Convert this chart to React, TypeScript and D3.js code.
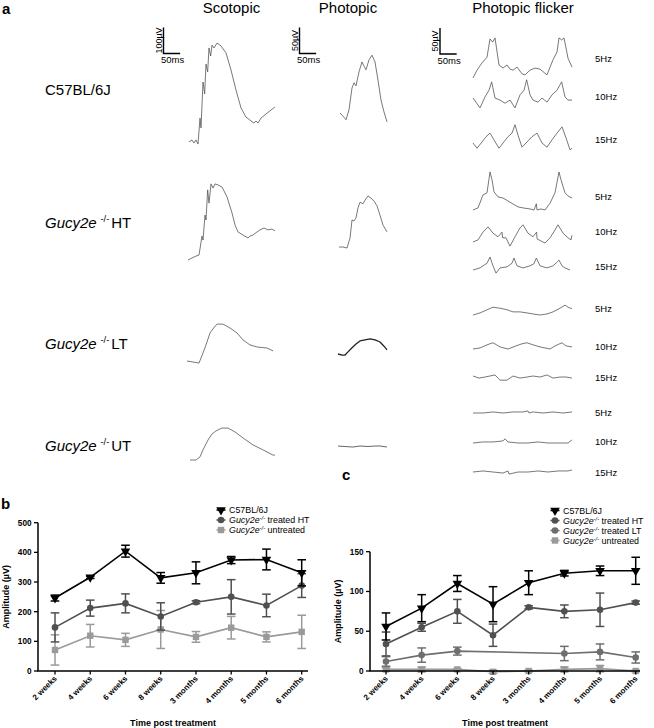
import React from "react";
import * as d3 from "d3";

const FONT = "'Liberation Sans', Arial, Helvetica, sans-serif";

// ---------- Panel b / c data ----------
const categories = ["2 weeks", "4 weeks", "6 weeks", "8 weeks", "3 months", "4 months", "5 months", "6 months"];

const bC57Mean = [246, 316, 404, 314, 331, 374, 376, 331];
const bC57Err = [10, 4, 20, 18, 37, 12, 35, 44];
const bHTMean = [147, 212, 228, 184, 232, 250, 221, 288];
const bHTErr = [49, 27, 32, 46, 5, 58, 38, 40];
const bUTMean = [71, 119, 105, 140, 115, 146, 115, 132];
const bUTErr = [51, 38, 22, 64, 18, 38, 17, 56];
const bTicks = [0, 100, 200, 300, 400, 500];

const cC57Mean = [56, 79, 110, 84, 111, 123, 126, 126];
const cC57Err = [17, 17, 10, 22, 15, 3.5, 6, 17];
const cHTMean = [34, 55, 75, 45, 80, 75, 77, 86];
const cHTErr = [15, 5, 15, 14, 2, 8, 21, 2];
const cLTMean = [12, 20, 25, null, null, 22, 24, 17];
const cLTErr = [6, 9, 5, null, null, 9, 10, 7];
const cUTMean = [2, 2, 2, -1, 0, 2, 3, 0];
const cUTErr = [2, 3, 1, 2, 1, 3, 4, 1];
const cTicks = [0, 50, 100, 150];

// ---------- Panel a traces (ms, µV) ----------
const scoC57T = [0, 9, 15, 21, 27, 33, 36, 42, 47, 51, 56, 60, 65, 69, 75, 84, 96, 111, 126, 141, 156, 171, 186, 195, 201, 207, 216, 231, 246, 258];
const scoC57V = [0, 8, -4, 8, -8, 92, 54, 231, 185, 300, 270, 362, 331, 373, 362, 381, 370, 343, 277, 200, 131, 96, 81, 73, 81, 73, 92, 108, 123, 135];
const scoHTT = [0, 12, 24, 33, 42, 45, 51, 54, 59, 63, 69, 75, 81, 90, 102, 117, 132, 141, 150, 165, 180, 186, 195, 207, 216, 228, 240, 252, 261];
const scoHTV = [0, 8, 15, 19, 92, 77, 173, 154, 270, 219, 293, 277, 293, 289, 281, 243, 181, 135, 108, 96, 85, 92, 96, 108, 116, 123, 116, 119, 112];
const scoLTT = [0, 18, 36, 48, 60, 69, 80, 90, 108, 129, 150, 168, 189, 210, 240, 258];
const scoLTV = [0, -4, -8, 31, 73, 108, 127, 142, 142, 127, 108, 81, 62, 54, 50, 39];
const scoUTT = [0, 18, 30, 39, 54, 66, 78, 96, 114, 135, 159, 189, 219, 249, 255];
const scoUTV = [0, 0, 12, 39, 77, 100, 112, 123, 123, 108, 85, 58, 39, 19, 19];

const phoC57T = [0, 9, 18, 27, 36, 42, 48, 57, 66, 72, 78, 87, 96, 105, 114, 123, 132, 141];
const phoC57V = [0, -6, -13, 6, 48, 58, 52, 79, 98, 90, 83, 102, 111, 98, 63, 25, 2, -17];
const phoHTT = [0, 12, 24, 33, 39, 45, 51, 57, 63, 72, 78, 87, 96, 105, 114, 123, 132, 144];
const phoHTV = [0, 0, -2, 17, 52, 50, 56, 75, 86, 83, 90, 98, 94, 88, 79, 61, 42, 29];
const phoLTT = [0, 12, 21, 30, 42, 54, 66, 81, 96, 111, 126, 138, 147];
const phoLTV = [0, -2, -2, 4, 12, 19, 25, 27, 29, 27, 23, 15, 8];
const phoUTT = [0, 21, 45, 66, 90, 111, 126, 147];
const phoUTV = [0, -1, -2, 0, -1, 0, 0, -2];

const fC57_5T = [0, 12, 27, 42, 51, 59, 66, 78, 90, 102, 111, 120, 132, 147, 156, 171, 186, 201, 222, 240, 252, 258, 266, 273, 285, 297];
const fC57_5V = [0, 15, 29, 40, 75, 69, 77, 25, 19, 25, 17, 15, 21, 8, 6, 15, 19, 17, 6, 35, 50, 77, 73, 77, 38, 21];
const fC57_10T = [0, 21, 36, 48, 56, 66, 81, 96, 111, 126, 141, 153, 161, 171, 180, 195, 207, 222, 237, 252, 266, 276, 285, 297];
const fC57_10V = [0, -19, 2, 15, 31, 0, -4, -10, -4, -19, 6, 15, 35, 6, -4, -8, 0, -8, 6, 15, 31, 2, -4, -4];
const fC57_15T = [0, 12, 27, 39, 51, 63, 78, 90, 105, 117, 126, 135, 147, 159, 177, 192, 207, 222, 237, 252, 267, 279, 291, 297];
const fC57_15V = [0, -10, 2, 12, 19, 6, -10, 0, 12, 19, 35, 15, -8, 0, 12, 19, 0, -8, 6, 19, 31, 10, -13, -10];

const fHT_5T = [0, 15, 30, 42, 51, 57, 63, 75, 90, 111, 135, 150, 171, 183, 190, 192, 204, 216, 231, 246, 258, 264, 276, 285, 297];
const fHT_5V = [0, 4, 29, 33, 73, 58, 35, 25, 23, 15, 6, 4, 2, 0, 12, 0, 2, 0, 13, 33, 73, 58, 33, 27, 23];
const fHT_10T = [0, 15, 30, 45, 60, 75, 87, 89, 99, 111, 126, 141, 150, 165, 180, 191, 192, 204, 216, 231, 246, 255, 270, 285, 294, 297];
const fHT_10V = [0, 4, 19, 29, 17, 10, 19, 8, 8, -8, 10, 27, 33, 17, 10, 19, 6, 2, -2, 8, 23, 33, 17, 8, 4, 13];
const fHT_15T = [0, 21, 42, 51, 60, 69, 81, 102, 117, 123, 132, 150, 171, 183, 190, 201, 222, 240, 252, 258, 267, 276, 291];
const fHT_15V = [0, 4, 13, 25, 8, -6, 4, 6, 13, 23, 8, 4, 8, 12, 23, 8, 4, 8, 15, 19, 8, 4, 0];

const fLT_5T = [0, 21, 42, 60, 81, 102, 120, 141, 162, 180, 201, 222, 240, 261, 276, 285, 297];
const fLT_5V = [0, 4, 10, 15, 13, 10, 6, 6, 4, 2, 0, 2, 6, 13, 19, 15, 12];
const fLT_10T = [0, 21, 42, 60, 81, 105, 129, 147, 162, 180, 201, 231, 246, 267, 279, 297];
const fLT_10V = [0, 2, 8, 12, 4, 0, 6, 10, 12, 8, 4, 0, 6, 12, 6, 4];
const fLT_15T = [0, 18, 36, 66, 81, 102, 120, 141, 162, 180, 201, 222, 240, 261, 279, 297];
const fLT_15V = [0, -4, -2, 2, -8, -8, 0, -4, -2, 0, -2, 2, -4, -2, -2, -4];

const fUT_5T = [0, 30, 60, 90, 120, 150, 165, 168, 180, 210, 240, 270, 297];
const fUT_5V = [0, 0, 2, 0, 2, 2, 4, 0, 2, 0, 2, 0, 2];
const fUT_10T = [0, 30, 60, 90, 96, 105, 135, 165, 195, 225, 255, 285, 297];
const fUT_10V = [0, 2, 2, 4, 8, 2, 0, 0, 2, 0, 0, 0, 6];
const fUT_15T = [0, 30, 60, 90, 105, 108, 135, 165, 195, 225, 255, 285, 297];
const fUT_15V = [0, 2, 0, -2, 2, -4, 0, 0, 2, 0, 2, 2, 4];

const rowLabels = ["C57BL/6J", "HT", "LT", "UT"];
const freqLabels = ["5Hz", "10Hz", "15Hz"];

// ---------- components ----------
const MS_PER_PX = 3;
const LEG_FS = 8.9;

function Trace({ t, v, x0, y0, uvPerPx, color = "#555", width = 0.8 }) {
  const xs = d3.scaleLinear().domain([0, 50]).range([x0, x0 + 50 / MS_PER_PX]);
  const ys = d3.scaleLinear().domain([0, 50]).range([y0, y0 - 50 / uvPerPx]);
  const pts = t.map((d, i) => [xs(d), ys(v[i])]);
  const path = d3.line().curve(d3.curveLinear)(pts);
  return <path d={path} fill="none" stroke={color} strokeWidth={width} strokeLinejoin="round" />;
}

function ScaleBar({ x, y, uv, uvPerPx, label }) {
  const h = uv / uvPerPx;
  const w = 50 / MS_PER_PX;
  return (
    <g>
      <path d={`M${x},${y - h}V${y}H${x + w}`} fill="none" stroke="#000" strokeWidth={1.4} />
      <text
        transform={`translate(${x - 1.8},${y - h / 2}) rotate(-90)`}
        textAnchor="middle"
        fontSize={9}
      >
        {label}
      </text>
      <text x={x - 2.5} y={y + 9.5} fontSize={9.5}>50ms</text>
    </g>
  );
}

function Marker({ shape, x, y, color }) {
  if (shape === "circle") return <circle cx={x} cy={y} r={3.3} fill={color} />;
  if (shape === "square") return <rect x={x - 3.2} y={y - 3.2} width={6.4} height={6.4} fill={color} />;
  const p = d3.symbol(d3.symbolTriangle, 40)();
  return <path d={p} transform={`translate(${x},${y}) rotate(180)`} fill={color} />;
}

function GeneLabel({ x, y, suffix, size }) {
  return (
    <text x={x} y={y} fontSize={size}>
      <tspan fontStyle="italic">Gucy2e</tspan>
      <tspan dx={size * 0.25} dy={-size * 0.38} fontSize={size * 0.62}>-/-</tspan>
      <tspan dx={2} dy={size * 0.38}>{suffix}</tspan>
    </text>
  );
}

function LegendGeneLabel({ x, y, suffix }) {
  return (
    <text x={x} y={y} fontSize={LEG_FS}>
      <tspan fontStyle="italic">Gucy2e</tspan>
      <tspan dy={-2.8} fontSize={5.8} fontStyle="italic">-/-</tspan>
      <tspan dy={2.8}>{" " + suffix}</tspan>
    </text>
  );
}

function LineChart({ axisX0, axisX1, firstX, lastX, y0px, ymax, yTop, ticks, series, legendX, legendY, label, labelPos }) {
  const x = d3.scalePoint().domain(categories).range([firstX, lastX]);
  const y = d3.scaleLinear().domain([0, ymax]).range([y0px, yTop]);
  const line = d3.line().x((d) => d[0]).y((d) => d[1]);
  const titleY = (y0px + yTop) / 2;
  return (
    <g>
      <text x={labelPos[0]} y={labelPos[1]} fontSize={15} fontWeight="bold">{label}</text>
      {/* series */}
      {series.slice().reverse().map((s, si) => {
        const pts = categories
          .map((c, i) => (s.mean[i] == null ? null : [x(c), y(s.mean[i]), s.mean[i], s.err[i]]))
          .filter((d) => d);
        return (
          <g key={si}>
            <path d={line(pts)} fill="none" stroke={s.color} strokeWidth={1.6} />
            {pts.map((d, i) => {
              const yt = y(d[2] + d[3]);
              const yb = y(d[2] - d[3]);
              return (
                <g key={i} stroke={s.color} strokeWidth={1.5}>
                  <line x1={d[0]} x2={d[0]} y1={yt} y2={yb} />
                  <line x1={d[0] - 4.3} x2={d[0] + 4.3} y1={yt} y2={yt} />
                  <line x1={d[0] - 4.3} x2={d[0] + 4.3} y1={yb} y2={yb} />
                </g>
              );
            })}
            {pts.map((d, i) => (
              <Marker key={"m" + i} shape={s.shape} x={d[0]} y={d[1]} color={s.color} />
            ))}
          </g>
        );
      })}
      {/* axes */}
      <path d={`M${axisX0},${y(ymax)}V${y0px}H${axisX1}`} fill="none" stroke="#000" strokeWidth={1.5} />
      {ticks.map((t) => (
        <g key={t}>
          <line x1={axisX0 - 4} x2={axisX0} y1={y(t)} y2={y(t)} stroke="#000" strokeWidth={1.3} />
          <text x={axisX0 - 6.5} y={y(t) + 3} textAnchor="end" fontSize={8.2} fontWeight="bold">{t}</text>
        </g>
      ))}
      {categories.map((c) => (
        <g key={c}>
          <line x1={x(c)} x2={x(c)} y1={y0px} y2={y0px + 3.5} stroke="#000" strokeWidth={1.3} />
          <text
            transform={`translate(${x(c) + 2.5},${y0px + 8}) rotate(-45)`}
            textAnchor="end"
            fontSize={8}
            fontWeight="bold"
          >
            {c}
          </text>
        </g>
      ))}
      <text
        transform={`translate(${axisX0 - 29},${titleY}) rotate(-90)`}
        textAnchor="middle"
        fontSize={9}
        fontWeight="bold"
      >
        Amplitude (µV)
      </text>
      <text x={(axisX0 + axisX1) / 2} y={726} textAnchor="middle" fontSize={9} fontWeight="bold">
        Time post treatment
      </text>
      {/* legend */}
      {series.map((s, i) => {
        const ly = legendY + i * 10;
        return (
          <g key={"lg" + i}>
            <line x1={legendX - 4.5} x2={legendX + 4.5} y1={ly} y2={ly} stroke={s.color} strokeWidth={1.5} />
            <Marker shape={s.shape} x={legendX} y={ly} color={s.color} />
            {s.gene ? (
              <LegendGeneLabel x={legendX + 8} y={ly + 3.2} suffix={s.name} />
            ) : (
              <text x={legendX + 8} y={ly + 3.2} fontSize={LEG_FS}>{s.name}</text>
            )}
          </g>
        );
      })}
    </g>
  );
}

export default function App() {
  const BLACK = "#000";
  const HT = "#505050";
  const LT = "#6e6e6e";
  const UT = "#9a9a9a";

  const bSeries = [
    { name: "C57BL/6J", gene: false, mean: bC57Mean, err: bC57Err, color: BLACK, shape: "tri" },
    { name: "treated HT", gene: true, mean: bHTMean, err: bHTErr, color: HT, shape: "circle" },
    { name: "untreated", gene: true, mean: bUTMean, err: bUTErr, color: UT, shape: "square" },
  ];
  const cSeries = [
    { name: "C57BL/6J", gene: false, mean: cC57Mean, err: cC57Err, color: BLACK, shape: "tri" },
    { name: "treated HT", gene: true, mean: cHTMean, err: cHTErr, color: HT, shape: "circle" },
    { name: "treated LT", gene: true, mean: cLTMean, err: cLTErr, color: LT, shape: "circle" },
    { name: "untreated", gene: true, mean: cUTMean, err: cUTErr, color: UT, shape: "square" },
  ];

  const SCO_UV = 3.85;
  const PHO_UV = 1.92;

  const scoTraces = [
    { t: scoC57T, v: scoC57V, x0: 189, y0: 142 },
    { t: scoHTT, v: scoHTV, x0: 188, y0: 260 },
    { t: scoLTT, v: scoLTV, x0: 187, y0: 361 },
    { t: scoUTT, v: scoUTV, x0: 190, y0: 460 },
  ];
  const phoTraces = [
    { t: phoC57T, v: phoC57V, x0: 340, y0: 113, w: 0.8 },
    { t: phoHTT, v: phoHTV, x0: 339, y0: 247, w: 0.8 },
    { t: phoLTT, v: phoLTV, x0: 338, y0: 354, w: 1.3 },
    { t: phoUTT, v: phoUTV, x0: 338, y0: 446, w: 0.9 },
  ];
  const flkTraces = [
    [{ t: fC57_5T, v: fC57_5V, y0: 78 }, { t: fC57_10T, v: fC57_10V, y0: 98 }, { t: fC57_15T, v: fC57_15V, y0: 143 }],
    [{ t: fHT_5T, v: fHT_5V, y0: 210 }, { t: fHT_10T, v: fHT_10V, y0: 242 }, { t: fHT_15T, v: fHT_15V, y0: 270 }],
    [{ t: fLT_5T, v: fLT_5V, y0: 315 }, { t: fLT_10T, v: fLT_10V, y0: 349 }, { t: fLT_15T, v: fLT_15V, y0: 376 }],
    [{ t: fUT_5T, v: fUT_5V, y0: 413 }, { t: fUT_10T, v: fUT_10V, y0: 443 }, { t: fUT_15T, v: fUT_15V, y0: 472 }],
  ];
  const freqLabelY = [
    [62, 100, 143],
    [200, 235, 270],
    [312, 349.5, 381],
    [416, 445, 476],
  ];
  const rowLabelY = [95, 227.5, 348.5, 451];

  return (
    <svg
      width={654}
      height={728}
      style={{ position: "absolute", left: 0, top: 0, background: "#fff" }}
      fontFamily={FONT}
    >
      <rect width={654} height={728} fill="#fff" />
      {/* panel a */}
      <text x={2} y={13.5} fontSize={15} fontWeight="bold">a</text>
      <text x={231.5} y={13} textAnchor="middle" fontSize={15}>Scotopic</text>
      <text x={348} y={13} textAnchor="middle" fontSize={15}>Photopic</text>
      <text x={523} y={13} textAnchor="middle" fontSize={15}>Photopic flicker</text>

      <ScaleBar x={163.5} y={53.5} uv={100} uvPerPx={SCO_UV} label="100µV" />
      <ScaleBar x={299.5} y={53.5} uv={50} uvPerPx={PHO_UV} label="50µV" />
      <ScaleBar x={440} y={54} uv={50} uvPerPx={PHO_UV} label="50µV" />

      {rowLabels.map((r, i) =>
        i === 0 ? (
          <text key={r} x={45} y={rowLabelY[i]} fontSize={15}>{r}</text>
        ) : (
          <GeneLabel key={r} x={45} y={rowLabelY[i]} suffix={r} size={15} />
        )
      )}

      {scoTraces.map((d, i) => (
        <Trace key={"s" + i} t={d.t} v={d.v} x0={d.x0} y0={d.y0} uvPerPx={SCO_UV} />
      ))}
      {phoTraces.map((d, i) => (
        <Trace key={"p" + i} t={d.t} v={d.v} x0={d.x0} y0={d.y0} uvPerPx={PHO_UV} width={d.w} color={i === 2 ? "#222" : "#555"} />
      ))}
      {flkTraces.map((row, ri) =>
        row.map((d, fi) => (
          <Trace key={"f" + ri + fi} t={d.t} v={d.v} x0={473} y0={d.y0} uvPerPx={PHO_UV} />
        ))
      )}
      {freqLabelY.map((row, ri) =>
        row.map((yy, fi) => (
          <text key={"fl" + ri + fi} x={595} y={yy} fontSize={9.5}>{freqLabels[fi]}</text>
        ))
      )}

      {/* panel b */}
      <LineChart
        axisX0={38}
        axisX1={308}
        firstX={55}
        lastX={301.7}
        y0px={671}
        ymax={500}
        yTop={522.7}
        ticks={bTicks}
        series={bSeries}
        legendX={221}
        legendY={510}
        label="b"
        labelPos={[1, 509]}
      />
      {/* panel c */}
      <LineChart
        axisX0={370}
        axisX1={640}
        firstX={386}
        lastX={635.7}
        y0px={671}
        ymax={150}
        yTop={551.7}
        ticks={cTicks}
        series={cSeries}
        legendX={555}
        legendY={510.5}
        label="c"
        labelPos={[342, 480]}
      />
    </svg>
  );
}
